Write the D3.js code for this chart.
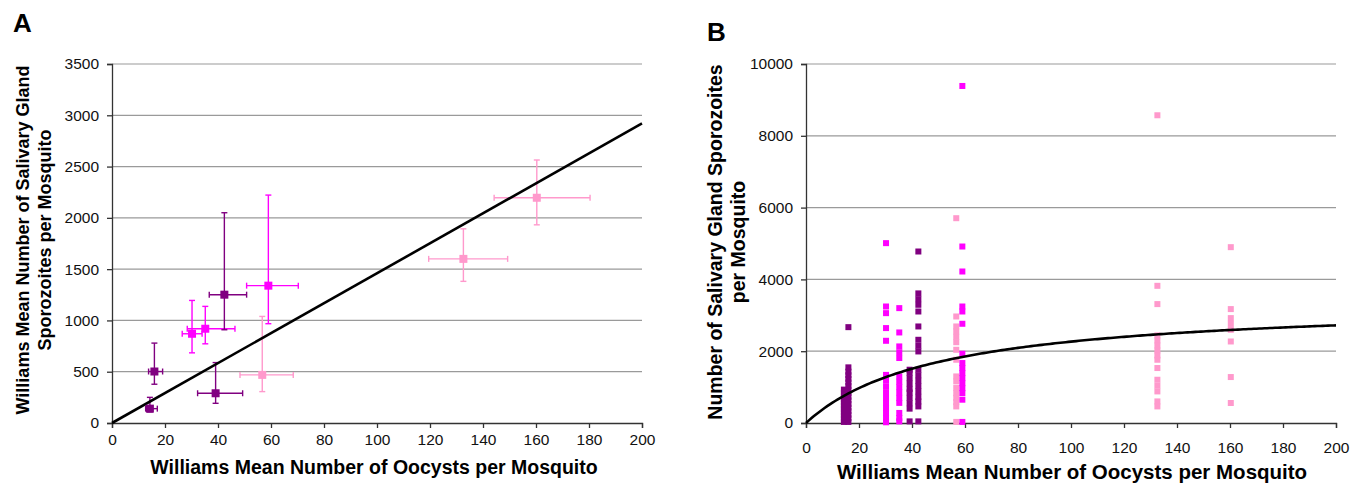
<!DOCTYPE html>
<html><head><meta charset="utf-8">
<script src="https://cdn.jsdelivr.net/npm/d3@7"></script>
<style>body{margin:0;background:#fff} text{font-family:"Liberation Sans",Arial,sans-serif}</style>
</head><body><svg id="c" width="1355" height="485" style="background:#fff"></svg>
<script>
// ---------- data ----------
const xTicks = [0,20,40,60,80,100,120,140,160,180,200];
const aYTicks = [0,500,1000,1500,2000,2500,3000,3500];
const bYTicks = [0,2000,4000,6000,8000,10000];
const groupColors = {dark:"#800080", magenta:"#ff00ff", pink:"#ff99cc"};

// Panel A: Williams means with error bars
const aGroup = ["dark","dark","magenta","magenta","dark","dark","magenta","pink","pink","pink"];
const aX     = [14.3, 16.0, 30.2, 35.2, 42.4, 39.1, 59.0, 56.7, 160.3, 132.6];
const aY     = [140, 502, 870, 919, 1251, 290, 1339, 469, 2196, 1600];
const aYLow  = [108, 378, 684, 772, 909, 192, 968, 306, 1932, 1381];
const aYHigh = [250, 779, 1195, 1137, 2050, 589, 2222, 1039, 2564, 1893];
const aXLow  = [12.7, 13.8, 26.5, 28.4, 36.7, 32.3, 50.8, 48.3, 144.2, 119.5];
const aXHigh = [17.1, 19.1, 34.0, 46.4, 50.8, 49.3, 70.3, 68.4, 180.4, 149.3];
const aSlope = 14.6; // regression line through origin

// Panel B: individual mosquitoes
const bX     = [14.3, 16.0, 30.2, 35.2, 39.1, 42.4, 56.7, 59.0, 132.6, 160.3];
const bGroup = ["dark","dark","magenta","magenta","dark","dark","pink","magenta","pink","pink"];
const bCol1  = [30,120,210,300,390,480,570,660,750,840,930];
const bCol2  = [30,130,230,330,430,530,630,730,830,930,1030,1130,1230,1330,1430,1550,2670];
const bCol3  = [5010,3245,3060,2644,2290,1340,1180,1020,860,700,560,420,280,140,20];
const bCol4  = [3200,2522,2133,1970,1810,1297,1150,1000,850,700,560,280,140,45];
const bCol5  = [1484,1400,1250,1100,950,850,700,550,400,45];
const bCol6  = [4777,3610,3450,3293,3106,2689,2318,2150,1993,1484,1330,1180,1030,880,730,600,462,45];
const bCol7  = [5705,2967,2689,2550,2400,2250,2040,1762,1297,1158,974,830,700,580,462,30];
const bCol8  = [9388,4916,4220,3245,3106,2764,1929,1670,1530,1390,1250,1110,970,835,649,30];
const bCol9  = [8572,3821,3312,2440,2300,2160,2020,1880,1762,1531,1205,1040,880,601,462];
const bCol10 = [4898,3173,2922,2760,2597,2271,1280,557];
const bColumns = [bCol1,bCol2,bCol3,bCol4,bCol5,bCol6,bCol7,bCol8,bCol9,bCol10];
const bVmax = 3400, bKm = 50; // saturating fit

// ---------- drawing ----------
const svg = d3.select("#c");
svg.append("rect").attr("width",1355).attr("height",485).attr("fill","#fff");
const gridColor = "#9a9a9a", axisColor = "#333";

function panel(opts){
  const x = d3.scaleLinear().domain([0,200]).range([opts.x0, opts.x1]);
  const y = d3.scaleLinear().domain([0,opts.yMax]).range([opts.y0, opts.y1]);
  const g = svg.append("g");
  g.selectAll("line.grid").data(opts.yTicks.filter(d=>d>0)).join("line")
    .attr("x1",opts.x0).attr("x2",opts.x1)
    .attr("y1",d=>y(d)).attr("y2",d=>y(d))
    .attr("stroke",gridColor).attr("stroke-width",1.2);
  const ax = g.append("g").attr("transform",`translate(0,${opts.y0})`)
    .call(d3.axisBottom(x).tickValues(xTicks).tickSize(5).tickPadding(opts.xPad).tickFormat(d3.format("d")));
  const ay = g.append("g").attr("transform",`translate(${opts.x0},0)`)
    .call(d3.axisLeft(y).tickValues(opts.yTicks).tickSize(5).tickPadding(8).tickFormat(d3.format("d")));
  [ax,ay].forEach(a=>{
    a.selectAll("path,line").attr("stroke",axisColor).attr("stroke-width",1.3);
    a.selectAll("text").attr("font-size",15.5).attr("fill","#111")
      .style("font-family","'Liberation Sans',Arial,sans-serif");
  });
  return {x,y,g};
}

// Panel A
const A = panel({x0:112,x1:642,y0:423,y1:64,yMax:3500,yTicks:aYTicks,xPad:6});
const aData = aX.map((d,i)=>({x:d,y:aY[i],yl:aYLow[i],yh:aYHigh[i],xl:aXLow[i],xh:aXHigh[i],c:groupColors[aGroup[i]]}));
const eb = A.g.append("g");
aData.forEach(d=>{
  const cx=A.x(d.x), cy=A.y(d.y), cap=3;
  const L=(x1,y1,x2,y2)=>eb.append("line").attr("x1",x1).attr("y1",y1).attr("x2",x2).attr("y2",y2).attr("stroke",d.c).attr("stroke-width",1.4);
  L(cx,A.y(d.yl),cx,A.y(d.yh));
  L(cx-cap,A.y(d.yl),cx+cap,A.y(d.yl));
  L(cx-cap,A.y(d.yh),cx+cap,A.y(d.yh));
  L(A.x(d.xl),cy,A.x(d.xh),cy);
  L(A.x(d.xl),cy-cap,A.x(d.xl),cy+cap);
  L(A.x(d.xh),cy-cap,A.x(d.xh),cy+cap);
});
A.g.append("line").attr("x1",A.x(0)).attr("y1",A.y(0)).attr("x2",A.x(200)).attr("y2",A.y(200*aSlope))
  .attr("stroke","#000").attr("stroke-width",2.6);
A.g.selectAll("rect.pt").data(aData).join("rect")
  .attr("x",d=>A.x(d.x)-4).attr("y",d=>A.y(d.y)-4).attr("width",8).attr("height",8).attr("fill",d=>d.c);

// Panel B
const B = panel({x0:806,x1:1336,y0:423,y1:64,yMax:10000,yTicks:bYTicks,xPad:14});
const bPts = [];
bColumns.forEach((col,i)=>col.forEach(v=>bPts.push({x:bX[i],y:v,c:groupColors[bGroup[i]]})));
B.g.selectAll("rect.pt").data(bPts).join("rect")
  .attr("x",d=>B.x(d.x)-3).attr("y",d=>B.y(d.y)-3).attr("width",6).attr("height",6).attr("fill",d=>d.c);
const curve = d3.range(0,200.5,1).map(v=>[v, bVmax*v/(bKm+v)]);
B.g.append("path").datum(curve)
  .attr("d",d3.line().x(d=>B.x(d[0])).y(d=>B.y(d[1])))
  .attr("fill","none").attr("stroke","#000").attr("stroke-width",2.6);

// Titles
svg.append("text").attr("x",13).attr("y",32).attr("font-size",26).attr("font-weight","bold").text("A");
svg.append("text").attr("x",707).attr("y",41).attr("font-size",26).attr("font-weight","bold").text("B");
svg.append("text").attr("x",374).attr("y",474).attr("text-anchor","middle").attr("font-size",19.5).attr("font-weight","bold").text("Williams Mean Number of Oocysts per Mosquito");
svg.append("text").attr("x",1072).attr("y",479).attr("text-anchor","middle").attr("font-size",20.5).attr("font-weight","bold").text("Williams Mean Number of Oocysts per Mosquito");
const ta = svg.append("text").attr("transform","translate(29,240) rotate(-90)").attr("text-anchor","middle").attr("font-size",18).attr("font-weight","bold");
ta.append("tspan").attr("x",0).attr("dy",0).text("Williams Mean Number of Salivary Gland");
ta.append("tspan").attr("x",0).attr("dy",22).text("Sporozoites per Mosquito");
const tb = svg.append("text").attr("transform","translate(722,242) rotate(-90)").attr("text-anchor","middle").attr("font-size",19.5).attr("font-weight","bold");
tb.append("tspan").attr("x",0).attr("dy",0).text("Number of Salivary Gland Sporozoites");
tb.append("tspan").attr("x",0).attr("dy",23).text("per Mosquito");
</script></body></html>
